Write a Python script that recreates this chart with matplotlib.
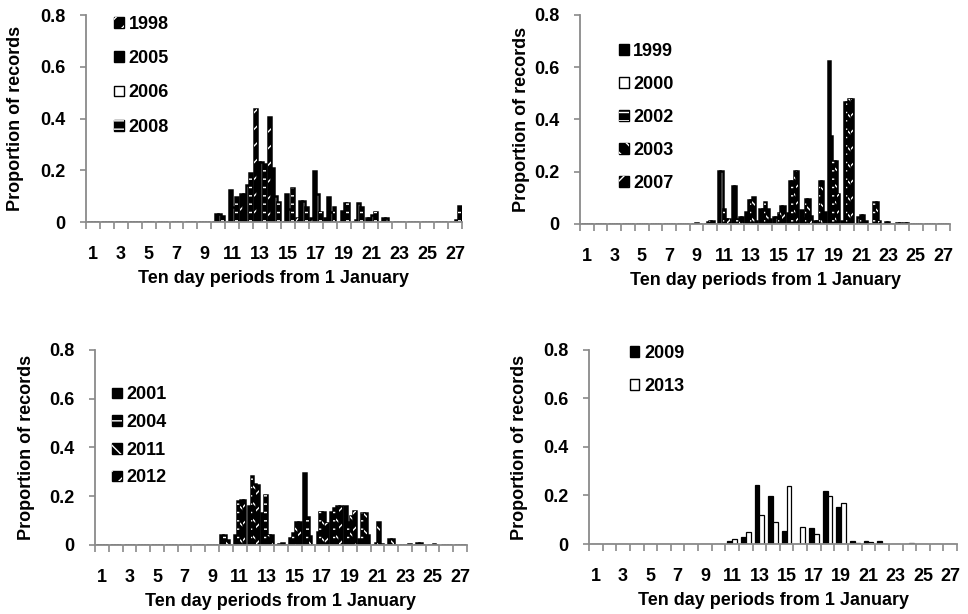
import numpy as np
import matplotlib
matplotlib.use("Agg")
import matplotlib.pyplot as plt

# ten day periods 1..27
periods = list(range(1, 28))
odd_labels = [str(p) for p in periods if p % 2 == 1]
yticks = [0, 0.2, 0.4, 0.6, 0.8]
ytick_labels = ["0", "0.2", "0.4", "0.6", "0.8"]

# panel A (top left)
a_years = ["1998", "2005", "2006", "2008"]
a_1998 = [0, 0, 0, 0, 0, 0, 0, 0, 0,
          0, 0, 0.11, 0.436, 0.406, 0, 0.017, 0.017, 0.017, 0, 0, 0.017, 0, 0, 0, 0, 0, 0]
a_2005 = [0, 0, 0, 0, 0, 0, 0, 0, 0,
          0.03, 0.124, 0.11, 0.232, 0.208, 0.11, 0.08, 0.197, 0.097, 0.043, 0.008, 0.017, 0.014, 0, 0, 0, 0, 0]
a_2006 = [0, 0, 0, 0, 0, 0, 0, 0, 0,
          0.03, 0.059, 0.143, 0.232, 0.1, 0.049, 0.08, 0.107, 0.04, 0.072, 0.072, 0.027, 0.014, 0, 0, 0, 0, 0.008]
a_2008 = [0, 0, 0, 0, 0, 0, 0, 0, 0,
          0.022, 0.098, 0.19, 0.226, 0.077, 0.133, 0.058, 0.039, 0.058, 0.072, 0.058, 0.039, 0, 0, 0, 0, 0, 0.06]

# panel B (top right)
b_years = ["1999", "2000", "2002", "2003", "2007"]
b_1999 = [0, 0, 0, 0, 0, 0, 0, 0, 0,
          0, 0.204, 0.147, 0.047, 0.056, 0.028, 0.041, 0.054, 0.013, 0.625, 0.011, 0, 0, 0, 0.005, 0, 0, 0]
b_2000 = [0, 0, 0, 0, 0, 0, 0, 0, 0,
          0.008, 0.204, 0.147, 0.092, 0.056, 0.028, 0.163, 0.022, 0.013, 0.337, 0.466, 0.028, 0, 0.008, 0.005, 0, 0, 0]
b_2002 = [0, 0, 0, 0, 0, 0, 0, 0, 0.003,
          0.01, 0.057, 0.018, 0.092, 0.085, 0.043, 0.163, 0.097, 0.166, 0.241, 0.466, 0.034, 0.083, 0.008, 0, 0, 0, 0]
b_2003 = [0, 0, 0, 0, 0, 0, 0, 0, 0,
          0.01, 0.018, 0.025, 0.102, 0.057, 0.069, 0.203, 0.097, 0.166, 0.241, 0.48, 0.034, 0.083, 0, 0.005, 0, 0, 0]
b_2007 = [0, 0, 0, 0, 0, 0, 0, 0, 0,
          0, 0.018, 0.025, 0.013, 0.018, 0.07, 0.203, 0.032, 0.047, 0.114, 0.48, 0.013, 0.013, 0, 0.005, 0, 0, 0]

# panel C (bottom left)
c_years = ["2001", "2004", "2011", "2012"]
c_2001 = [0, 0, 0, 0, 0, 0, 0, 0, 0,
          0.04, 0.04, 0.16, 0.133, 0, 0.027, 0.297, 0.052, 0.134, 0.161, 0.023, 0, 0, 0, 0, 0, 0, 0]
c_2004 = [0, 0, 0, 0, 0, 0, 0, 0, 0,
          0.04, 0.18, 0.285, 0.205, 0.005, 0.048, 0.114, 0.134, 0.15, 0.096, 0.13, 0.007, 0.025, 0, 0.008, 0, 0, 0]
c_2011 = [0, 0, 0, 0, 0, 0, 0, 0, 0,
          0.019, 0.186, 0.25, 0.041, 0.007, 0.096, 0.036, 0.134, 0.161, 0.119, 0.13, 0.096, 0.025, 0, 0.008, 0.006, 0, 0]
c_2012 = [0, 0, 0, 0, 0, 0, 0, 0, 0,
          0, 0.186, 0.247, 0.041, 0, 0.096, 0, 0.089, 0.161, 0.14, 0.041, 0.005, 0, 0.006, 0, 0, 0, 0]

# panel D (bottom right)
d_years = ["2009", "2013"]
d_2009 = [0, 0, 0, 0, 0, 0, 0, 0, 0,
          0, 0.013, 0.028, 0.245, 0.196, 0.055, 0, 0.065, 0.22, 0.154, 0.012, 0.012, 0.012, 0, 0, 0, 0, 0]
d_2013 = [0, 0, 0, 0, 0, 0, 0, 0, 0,
          0, 0.02, 0.05, 0.121, 0.09, 0.241, 0.069, 0.04, 0.199, 0.168, 0.006, 0.01, 0, 0, 0.004, 0, 0, 0]

# fill / white hatch per year (excel style patterns)
styles = {
    "1998": ("black", "//"), "2005": ("black", None), "2006": ("white", None),
    "2008": ("black", "--"), "1999": ("black", None), "2000": ("white", None),
    "2002": ("black", "--"), "2003": ("black", "\\\\"), "2007": ("black", "//"),
    "2001": ("black", None), "2004": ("black", "--"), "2011": ("black", "\\\\"),
    "2012": ("black", "//"), "2009": ("black", None), "2013": ("white", None),
}

plt.rcParams['font.family'] = ['Liberation Sans', 'DejaVu Sans']
plt.rcParams['font.weight'] = 'bold'
plt.rcParams['hatch.linewidth'] = 1.0
GRAY = '#8a8a8a'
FS = 13


def draw_panel(ax, years, series, width, edge_lw, legend_anchor, spacing, ylabelpad):
    x = np.array(periods, dtype=float)
    n = len(series)
    handles = []
    for i, (yr, vals) in enumerate(zip(years, series)):
        fc, hatch = styles[yr]
        off = (i - (n - 1) / 2) * width
        base = ax.bar(x + off, vals, width, color=fc, edgecolor='black', linewidth=edge_lw)
        if hatch:
            over = ax.bar(x + off, vals, width, color='none', edgecolor='white',
                          linewidth=0, hatch=hatch)
            handles.append((base, over))
        else:
            handles.append(base)
    ax.set_xlim(0.5, 27.5)
    ax.set_ylim(0, 0.8)
    for s in ['top', 'right']:
        ax.spines[s].set_visible(False)
    for s in ['left', 'bottom']:
        ax.spines[s].set_color(GRAY)
        ax.spines[s].set_linewidth(1.3)
    ax.set_xticks(np.arange(0.5, 28, 1))
    ax.set_xticklabels([])
    ax.set_xticks([p for p in periods if p % 2 == 1], odd_labels, minor=True)
    ax.tick_params(axis='x', which='major', length=5, width=1.2, color=GRAY)
    ax.tick_params(axis='x', which='minor', length=0, pad=17, labelsize=FS)
    ax.set_yticks(yticks, ytick_labels)
    ax.tick_params(axis='y', length=4, width=1.2, color=GRAY, pad=11, labelsize=FS)
    ax.set_xlabel("Ten day periods from 1 January", fontsize=FS, fontweight='bold', labelpad=5)
    ax.set_ylabel("Proportion of records", fontsize=FS, fontweight='bold', labelpad=ylabelpad)
    leg = ax.legend(handles, years, loc='upper left', bbox_to_anchor=legend_anchor, frameon=False,
                    fontsize=FS, handlelength=0.55, handleheight=0.55, handletextpad=0.25,
                    labelspacing=spacing, borderpad=0, borderaxespad=0)
    for h in leg.legend_handles:
        if hasattr(h, 'set_linewidth') and not isinstance(h, tuple):
            h.set_linewidth(1.0)


fig = plt.figure(figsize=(9.68, 6.14), dpi=100)
ax1 = fig.add_axes([0.0888, 0.6384, 0.3884, 0.3371])
ax2 = fig.add_axes([0.5992, 0.6352, 0.3822, 0.3404])
ax3 = fig.add_axes([0.0981, 0.1124, 0.3843, 0.3176])
ax4 = fig.add_axes([0.6085, 0.1140, 0.3802, 0.3160])

draw_panel(ax1, a_years, [a_1998, a_2005, a_2006, a_2008], 0.21, 1.8, (0.075, 0.997), 0.96, 11.5)
draw_panel(ax2, b_years, [b_1999, b_2000, b_2002, b_2003, b_2007], 0.17, 1.8, (0.105, 0.868), 0.89, 3)
draw_panel(ax3, c_years, [c_2001, c_2004, c_2011, c_2012], 0.21, 1.8, (0.045, 0.813), 0.59, 10)
draw_panel(ax4, d_years, [d_2009, d_2013], 0.35, 0.9, (0.11, 1.027), 0.91, 11)

fig.savefig("out.png", dpi=100)
